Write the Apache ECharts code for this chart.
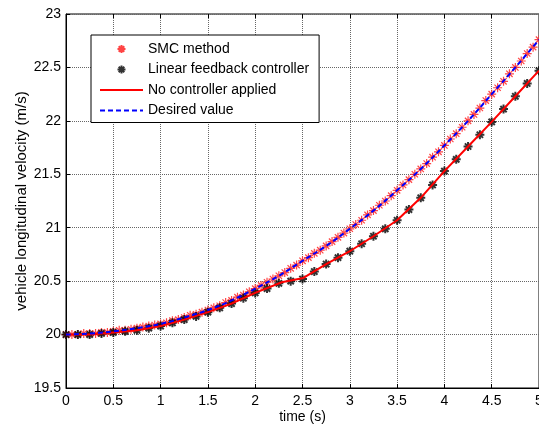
<!DOCTYPE html>
<html>
<head>
<meta charset="utf-8">
<script src="https://cdn.jsdelivr.net/npm/echarts@6.0.0/dist/echarts.min.js"></script>
<style>html,body{margin:0;padding:0;background:#fff}#c{width:539px;height:429px}</style>
</head>
<body>
<div id="c"></div>
<script>
// ---- data ----
var xTicks = [0, 0.5, 1, 1.5, 2, 2.5, 3, 3.5, 4, 4.5, 5];
var yTicks = [19.5, 20, 20.5, 21, 21.5, 22, 22.5, 23];

// SMC method (red asterisks)
var tSMC = [0,0.0625,0.125,0.1875,0.25,0.3125,0.375,0.4375,0.5,0.5625,0.625,0.6875,0.75,0.8125,0.875,0.9375,
  1,1.0625,1.125,1.1875,1.25,1.3125,1.375,1.4375,1.5,1.5625,1.625,1.6875,1.75,1.8125,1.875,1.9375,
  2,2.0625,2.125,2.1875,2.25,2.3125,2.375,2.4375,2.5,2.5625,2.625,2.6875,2.75,2.8125,2.875,2.9375,
  3,3.0625,3.125,3.1875,3.25,3.3125,3.375,3.4375,3.5,3.5625,3.625,3.6875,3.75,3.8125,3.875,3.9375,
  4,4.0625,4.125,4.1875,4.25,4.3125,4.375,4.4375,4.5,4.5625,4.625,4.6875,4.75,4.8125,4.875,4.9375,5];
var vSMC = [20.00,20.00,20.00,20.01,20.01,20.01,20.02,20.02,20.03,20.04,20.04,20.05,20.06,20.07,20.08,20.09,
  20.10,20.11,20.13,20.14,20.16,20.18,20.19,20.21,20.23,20.25,20.27,20.30,20.32,20.35,20.37,20.40,
  20.43,20.46,20.49,20.52,20.55,20.58,20.62,20.65,20.69,20.72,20.76,20.79,20.83,20.87,20.91,20.95,
  20.99,21.03,21.07,21.12,21.16,21.21,21.25,21.30,21.35,21.40,21.45,21.50,21.55,21.60,21.66,21.71,
  21.77,21.83,21.88,21.94,22.00,22.06,22.12,22.19,22.25,22.31,22.37,22.44,22.50,22.56,22.63,22.69,22.76];

// Linear feedback controller (black asterisks)
var tLin = [0,0.125,0.25,0.375,0.5,0.625,0.75,0.875,1,1.125,1.25,1.375,1.5,1.625,1.75,1.875,
  2,2.125,2.25,2.375,2.5,2.625,2.75,2.875,3,3.125,3.25,3.375,3.5,3.625,3.75,3.875,
  4,4.125,4.25,4.375,4.5,4.625,4.75,4.875,5];
var vLin = [20.00,20.00,20.00,20.01,20.02,20.03,20.04,20.06,20.08,20.11,20.14,20.17,20.21,20.25,20.29,20.34,
  20.39,20.43,20.48,20.50,20.52,20.59,20.66,20.72,20.78,20.85,20.92,20.99,21.07,21.17,21.28,21.40,
  21.53,21.64,21.76,21.87,21.99,22.11,22.23,22.35,22.47];

// No controller applied (red solid line)
var tNo = [0,0.25,0.5,0.75,1,1.25,1.5,1.75,2,2.28,2.51,2.75,3,3.25,3.5,3.75,4,4.25,4.5,4.75,5];
var vNo = [20.00,20.00,20.02,20.04,20.08,20.14,20.21,20.29,20.39,20.49,20.53,20.66,20.78,20.92,21.07,21.28,21.53,21.76,21.99,22.23,22.47];

// Desired value (blue dashed line)
var tDes = [0,0.25,0.5,0.75,1,1.25,1.5,1.75,2,2.25,2.5,2.75,3,3.25,3.5,3.75,4,4.25,4.5,4.75,5];
var vDes = [20.00,20.01,20.03,20.06,20.10,20.16,20.23,20.32,20.43,20.55,20.69,20.83,20.99,21.16,21.35,21.55,21.77,22.00,22.25,22.50,22.76];

function pairs(t, v) { return t.map(function (x, i) { return [x, v[i]]; }); }

var star = 'path://M5,0L5,10M0,5L10,5M1.5,1.5L8.5,8.5M1.5,8.5L8.5,1.5';
var FONT = '"Liberation Sans", Arial, sans-serif';

var chart = echarts.init(document.getElementById('c'), null, {renderer: 'canvas'});
chart.setOption({
  animation: false,
  backgroundColor: '#fff',
  textStyle: {fontFamily: FONT},
  grid: {left: 66, right: 0, top: 14, bottom: 41, show: true, borderColor: '#000', borderWidth: 1,
    backgroundColor: '#fff', outerBoundsMode: 'none', containLabel: false},
  legend: {
    orient: 'vertical', left: 91, top: 35,
    padding: [6, 10, 4, 8],
    itemWidth: 43, itemHeight: 8, itemGap: 4.5,
    backgroundColor: '#fff', borderColor: '#000', borderWidth: 1, borderRadius: 0,
    textStyle: {fontFamily: FONT, fontSize: 14, color: '#000', lineHeight: 16},
    data: [
      {name: 'SMC method'},
      {name: 'Linear feedback controller'},
      {name: 'No controller applied', itemStyle: {opacity: 0}},
      {name: 'Desired value', itemStyle: {opacity: 0}}
    ],
    z: 20
  },
  xAxis: [{
    type: 'value', min: xTicks[0], max: xTicks[xTicks.length - 1], interval: 0.5,
    name: 'time (s)', nameLocation: 'middle', nameGap: 22, nameMoveOverlap: false,
    nameTextStyle: {fontFamily: FONT, fontSize: 14, color: '#000'},
    axisLine: {lineStyle: {color: '#000', width: 1}},
    axisTick: {inside: true, length: 4, lineStyle: {color: '#000'}},
    axisLabel: {fontFamily: FONT, fontSize: 14, color: '#000', margin: 6, hideOverlap: false},
    splitLine: {show: true, lineStyle: {color: '#666', type: 'dotted', width: 1}}
  }, {
    type: 'value', position: 'top', min: xTicks[0], max: xTicks[xTicks.length - 1], interval: 0.5,
    axisLine: {show: false}, axisTick: {inside: true, length: 4, lineStyle: {color: '#000'}},
    axisLabel: {show: false}, splitLine: {show: false}
  }],
  yAxis: {
    type: 'value', min: yTicks[0], max: yTicks[yTicks.length - 1], interval: 0.5,
    name: 'vehicle longitudinal velocity (m/s)', nameLocation: 'middle', nameGap: 37, nameMoveOverlap: false,
    nameTextStyle: {fontFamily: FONT, fontSize: 15, color: '#000'},
    axisLine: {show: true, lineStyle: {color: '#000', width: 1}},
    axisTick: {inside: true, length: 4, lineStyle: {color: '#000'}},
    axisLabel: {fontFamily: FONT, fontSize: 14, color: '#000', margin: 5},
    splitLine: {show: true, lineStyle: {color: '#666', type: 'dotted', width: 1}}
  },
  series: [{
    name: 'SMC method', type: 'scatter', data: pairs(tSMC, vSMC),
    symbol: star, symbolSize: 9,
    itemStyle: {color: 'none', borderColor: '#ff3030', borderWidth: 1.2, opacity: 0.9}
  }, {
    name: 'Linear feedback controller', type: 'scatter', data: pairs(tLin, vLin),
    symbol: star, symbolSize: 9,
    itemStyle: {color: 'none', borderColor: '#000', borderWidth: 2}
  }, {
    name: 'No controller applied', type: 'line', data: pairs(tNo, vNo),
    symbol: 'none', smooth: false,
    lineStyle: {color: '#ff0000', width: 2}, itemStyle: {color: '#ff0000'}
  }, {
    name: 'Desired value', type: 'line', data: pairs(tDes, vDes),
    symbol: 'none', smooth: true,
    lineStyle: {color: '#0000ff', width: 2, type: [5, 3]}, itemStyle: {color: '#0000ff'}
  }]
});
</script>
</body>
</html>
